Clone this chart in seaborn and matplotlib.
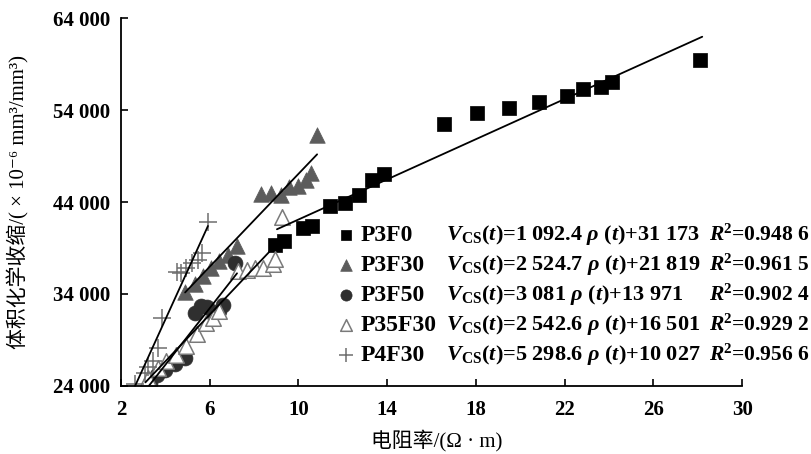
import matplotlib
matplotlib.use("Agg")
import matplotlib.pyplot as plt
import numpy as np
import pandas as pd
import seaborn as sns

# ---------------- data ----------------
series_names = ["P3F0", "P3F30", "P3F50", "P35F30", "P4F30"]

p3f0_x = [8.94, 9.35, 10.21, 10.61, 11.42, 12.10, 12.73, 13.32, 13.86, 16.56,
          18.05, 19.49, 20.85, 22.11, 22.83, 23.64, 24.14, 28.10]
p3f0_y = [39326, 39761, 41174, 41391, 43565, 43891, 44761, 46391, 47043, 52478,
          53674, 54217, 54870, 55522, 56283, 56500, 57043, 59435]

p3f30_x = [4.89, 5.34, 5.70, 6.06, 6.42, 6.82, 7.23, 8.31, 8.76, 9.21, 9.57,
           9.98, 10.34, 10.57, 10.84]
p3f30_y = [34217, 35087, 35957, 36826, 37587, 38239, 39217, 44870, 44978, 44761,
           45630, 45739, 46391, 47152, 51283]

p3f50_x = [3.31, 3.62, 3.98, 4.43, 4.89, 5.34, 5.61, 5.88, 6.15, 6.42, 6.60, 7.14]
p3f50_y = [24326, 25196, 25739, 26391, 27043, 31935, 32696, 32587, 31935, 32152,
           32804, 37370]

p35f30_x = [3.22, 3.67, 4.03, 4.48, 4.93, 5.43, 5.83, 6.15, 6.42, 7.27, 7.68,
            8.04, 8.40, 8.85, 8.94, 9.26]
p35f30_y = [24870, 25957, 26717, 27370, 28348, 29652, 30848, 31391, 32152, 36500,
            36609, 36826, 36826, 37261, 37804, 42370]

p4f30_x = [2.63, 3.08, 3.22, 3.44, 3.67, 3.85, 4.52, 4.71, 4.93, 5.20, 5.47,
           5.65, 5.92]
p4f30_y = [24217, 25413, 26065, 26717, 28130, 31391, 36391, 36283, 36826, 37370,
           37696, 38457, 41826]

# linear fits printed on the chart: V = slope * rho + intercept
fit_slope = [1092.4, 2524.7, 3081.0, 2542.6, 5298.6]
fit_intercept = [31173, 21819, 13971, 16501, 10027]
fit_x_start = [9.03, 4.89, 3.20, 3.10, 2.63]
fit_x_end = [28.20, 10.84, 7.23, 8.72, 5.92]
eq_numbers = ["1 092.4", "2 524.7", "3 081", "2 542.6", "5 298.6"]
eq_intercepts = ["31 173", "21 819", "13 971", "16 501", "10 027"]
r2_labels = ["0.948 6", "0.961 5", "0.902 4", "0.929 2", "0.956 6"]

x_ticks = [2, 6, 10, 14, 18, 22, 26, 30]
y_ticks = [24000, 34000, 44000, 54000, 64000]
y_tick_labels = ["24 000", "34 000", "44 000", "54 000", "64 000"]

# ---------------- style ----------------
sns.set_theme(style="ticks")
plt.rcParams["font.family"] = ["Liberation Serif", "Noto Sans CJK SC", "DejaVu Sans"]
plt.rcParams["mathtext.fontset"] = "custom"
plt.rcParams["mathtext.rm"] = "Liberation Serif"
plt.rcParams["mathtext.it"] = "Liberation Serif:italic"
plt.rcParams["mathtext.bf"] = "Liberation Serif:bold"
plt.rcParams["mathtext.bfit"] = "Liberation Serif:italic:bold"

fig = plt.figure(figsize=(8.12, 4.54), dpi=100)
ax = fig.add_axes([0.149, 0.150, 0.765, 0.810])

frames = {
    "P3F0": pd.DataFrame({"x": p3f0_x, "y": p3f0_y}),
    "P3F30": pd.DataFrame({"x": p3f30_x, "y": p3f30_y}),
    "P3F50": pd.DataFrame({"x": p3f50_x, "y": p3f50_y}),
    "P35F30": pd.DataFrame({"x": p35f30_x, "y": p35f30_y}),
    "P4F30": pd.DataFrame({"x": p4f30_x, "y": p4f30_y}),
}
styles = {
    "P3F0": dict(marker="s", s=100, color="black", edgecolor="black", linewidth=0.5),
    "P3F30": dict(marker="^", s=125, color="#5c5c5c", edgecolor="#5c5c5c", linewidth=0.5),
    "P3F50": dict(marker="o", s=115, color="#2f2f2f", edgecolor="#2f2f2f", linewidth=0.5),
    "P35F30": dict(marker="^", s=125, facecolor="white", edgecolor="#7a7a7a", linewidth=1.1),
    "P4F30": dict(marker="+", s=160, color="#6e6e6e", linewidth=1.1),
}

# fitted lines
for i, name in enumerate(series_names):
    xs = np.array([fit_x_start[i], fit_x_end[i]])
    line_df = pd.DataFrame({"x": xs, "y": fit_slope[i] * xs + fit_intercept[i]})
    sns.lineplot(data=line_df, x="x", y="y", ax=ax, color="black", linewidth=1.3,
                 zorder=3, legend=False)

for name in series_names:
    sns.scatterplot(data=frames[name], x="x", y="y", ax=ax, label=name, zorder=2,
                    **styles[name])

ax.set_xlim(2, 30)
ax.set_ylim(24000, 64000)
ax.set_xticks(x_ticks)
ax.set_xticklabels([str(t) for t in x_ticks])
ax.set_yticks(y_ticks)
ax.set_yticklabels(y_tick_labels)
ax.tick_params(direction="in", length=5, width=1.2, colors="black", labelsize=15)
ax.tick_params(axis="x", pad=10)
ax.tick_params(axis="y", pad=8)
for lab in ax.get_xticklabels() + ax.get_yticklabels():
    lab.set_fontweight("bold")
for sp in ["top", "right"]:
    ax.spines[sp].set_visible(False)
for sp in ["left", "bottom"]:
    ax.spines[sp].set_color("black")
    ax.spines[sp].set_linewidth(1.3)

ax.set_xlabel("电阻率/(Ω · m)", fontsize=15, color="black")
ax.xaxis.set_label_coords(0.509, -0.118)
ax.set_ylabel("体积化学收缩/( × 10⁻⁶ mm³/mm³)", fontsize=15, color="black")
ax.yaxis.set_label_coords(-0.148, 0.5)

# legend: markers + sample names, equations placed beside each row
handles, labels = ax.get_legend_handles_labels()
leg = ax.legend(handles, labels, loc="center left", bbox_to_anchor=(0.352, 0.247),
                frameon=False, prop={"weight": "bold", "size": 17},
                handlelength=0.55, handletextpad=0.35, labelspacing=0.36,
                markerscale=0.75, borderpad=0, borderaxespad=0)
for t in leg.get_texts():
    t.set_color("black")

fig.canvas.draw()
inv = ax.transAxes.inverted()
for i, t in enumerate(leg.get_texts()):
    bb = t.get_window_extent()
    _, yc = inv.transform((bb.x0, (bb.y0 + bb.y1) / 2))
    eq = (r"$\mathbfit{V}_{\mathbf{CS}}\mathbf{(}\mathbfit{t}\mathbf{)}$="
          + eq_numbers[i] + r" $\mathbfit{\rho}$ ($\mathbfit{t}$)+" + eq_intercepts[i])
    ax.text(0.523, yc, eq, transform=ax.transAxes, fontsize=16,
            fontweight="bold", va="center", ha="left", color="black")
    ax.text(0.946, yc, r"$\mathbfit{R}^{\mathbf{2}}$=" + r2_labels[i],
            transform=ax.transAxes, fontsize=15.5, fontweight="bold", va="center",
            ha="left", color="black", clip_on=False)

fig.savefig("out.png", dpi=100)
